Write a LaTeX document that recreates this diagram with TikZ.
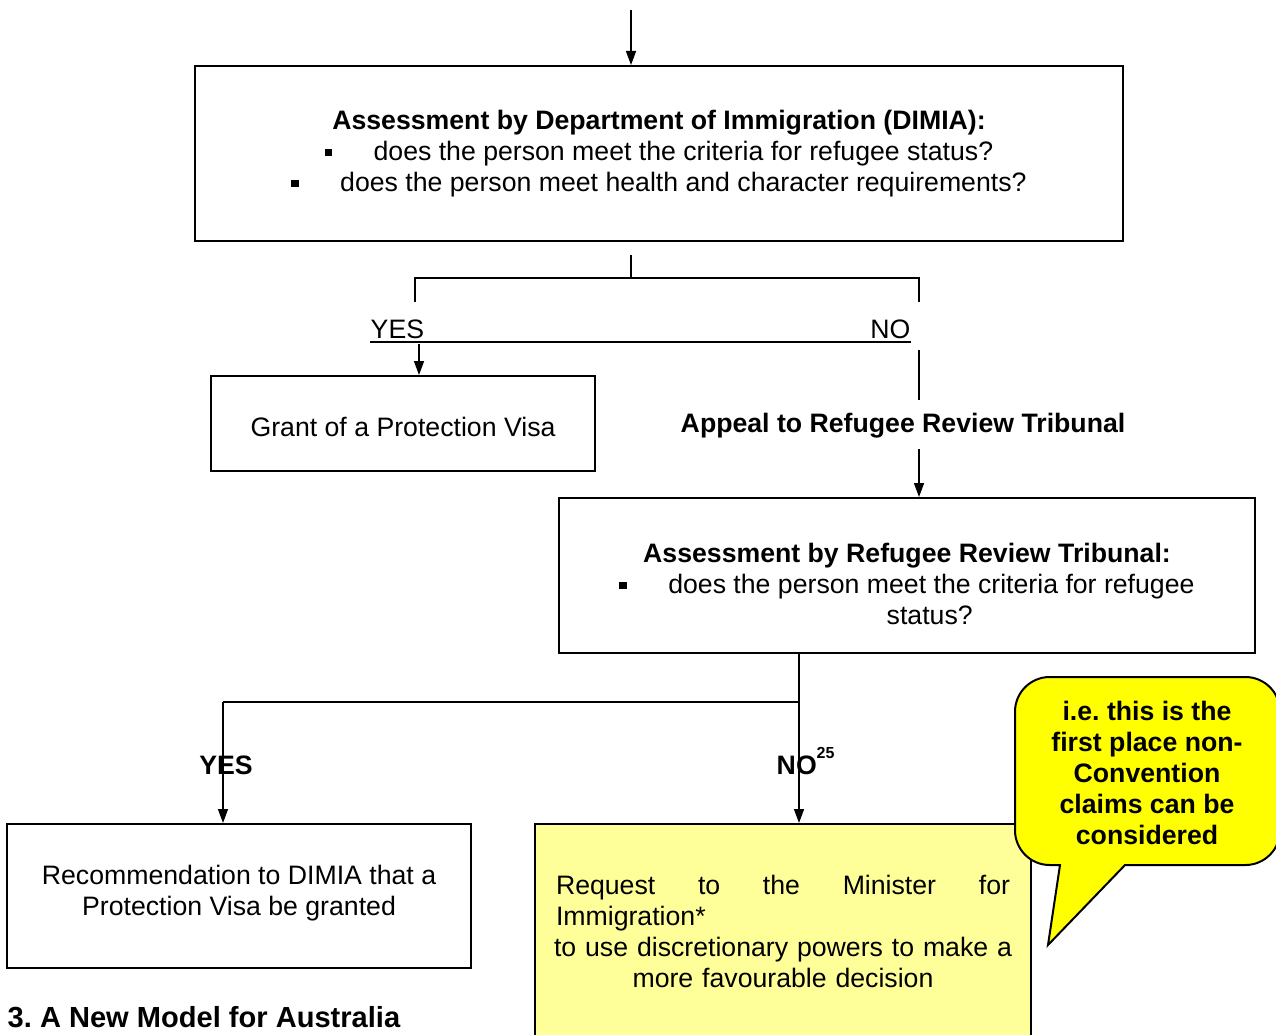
\documentclass[tikz,border=0pt]{standalone}
\usepackage{fontspec}
\setmainfont{Liberation Sans}
\usepackage{tikz}
\usetikzlibrary{arrows.meta}
\definecolor{paleyellow}{HTML}{FFFF99}
\definecolor{noteyellow}{HTML}{FFFF00}
\newcommand{\sqbullet}{\raisebox{0.28ex}{\rule{0.28em}{0.28em}}\hspace{1.55em}}
\frenchspacing

\begin{document}
\begin{tikzpicture}[x=0.75pt, y=-0.75pt, line width=1.1pt,
      every node/.append style={font=\fontsize{20}{23.25}\selectfont, inner sep=0pt},
      arrow/.style={-{Triangle[length=10.5pt,width=7.5pt]}}]
    \tikzstyle{box} = [draw, line width=1.5pt, align=center]
    \tikzstyle{answer} = [font=\fontsize{20}{23.25}\selectfont\bfseries]
    \useasboundingbox (0,0) rectangle (1276,1034);

    % boxes
    \node (dimia) [box, minimum width=928*0.75pt, minimum height=175*0.75pt] at (659,153.5)
      {\textbf{Assessment by Department of Immigration (DIMIA):}\\
       \sqbullet does the person meet the criteria for refugee status?\\
       \sqbullet does the person meet health and character requirements?};
    \node (visa) [box, minimum width=384*0.75pt, minimum height=95*0.75pt] at (403,423.5)
      {\rule{0pt}{19pt}Grant of a Protection Visa};
    \node (rrt) [box, minimum width=696*0.75pt, minimum height=155*0.75pt] at (907,575.5)
      {\rule{0pt}{27pt}\textbf{Assessment by Refugee Review Tribunal:}\\
       \sqbullet does the person meet the criteria for refugee\\
       \hspace*{34pt}status?};
    \node (recommend) [box, minimum width=464*0.75pt, minimum height=144*0.75pt] at (239,896)
      {Recommendation to DIMIA that a\\ Protection Visa be granted\rule[-8pt]{0pt}{0pt}};
    \node (request) [box, fill=paleyellow, minimum width=496*0.75pt, minimum height=236*0.75pt] at (783,942) {};
    \node (requesttext) [text width=454*0.75pt, align=left] at (783,931)
      {\hbox to 340.5pt{Request\hfill to\hfill the\hfill Minister\hfill for}\\
       Immigration*\\
       \makebox[\hsize][c]{to use discretionary powers to make a}\\
       \makebox[\hsize][c]{more favourable decision}};

    % labels
    \node (yes1) [anchor=base west] at (370,338) {YES};
    \node (no1) [anchor=base east] at (911,338) {NO};
    \node (appeal) [answer] at (903,426) {Appeal to Refugee Review Tribunal};
    \node (heading) [answer, font=\fontsize{21.8}{25}\selectfont\bfseries, anchor=west] at (7,1017) {3. A New Model for Australia};

    % connectors
    \coordinate (entry) at (631,10);
    \coordinate (dimiaout) at (631,255);
    \coordinate (split1) at (631,278);
    \coordinate (yesturn) at (415,278);
    \coordinate (noturn) at (919,278);
    \coordinate (yesdrop) at (419,344);
    \coordinate (nodrop) at (919,350);
    \coordinate (appealout) at (919,449);
    \coordinate (split2) at (799,702);
    \coordinate (yesturn2) at (223,702);
    \draw[arrow] (entry) -- (entry |- dimia.north);
    \draw (dimiaout) -- (split1);
    \draw (yesturn) ++(0,24) -- (yesturn) -- (noturn) -- ++(0,24);
    \draw[line width=1.5pt] ([yshift=-3pt]yes1.base west) -- ([yshift=-3pt]no1.base east);
    \draw[arrow] (yesdrop) -- (yesdrop |- visa.north);
    \draw (nodrop) -- ++(0,50);
    \draw[arrow] (appealout) -- (appealout |- rrt.north);
    \draw (rrt.south -| split2) -- (split2) -- (yesturn2);
    \draw[arrow] (yesturn2) -- (yesturn2 |- recommend.north);
    \draw[arrow] (split2) -- (split2 |- request.north);

    \node (yes2) [answer] at (226,765) {YES};
    \node (no2) [answer, anchor=base west] at (776,774)
      {NO\raisebox{0.6em}{\fontsize{12}{12}\selectfont\bfseries 25}};

    % callout
    \path[draw, fill=noteyellow, line width=1.5pt] (1048,945) -- (1060,865) [rounded corners=26pt]
      -- (1015,865) -- (1015,677) -- (1280,677) -- (1280,865) [sharp corners] -- (1125,865) -- cycle;
    \node (note) [answer, align=center] at (1147,773)
      {i.e. this is the\\ first place non-\\ Convention\\ claims can be\\ considered};
\end{tikzpicture}
\end{document}
